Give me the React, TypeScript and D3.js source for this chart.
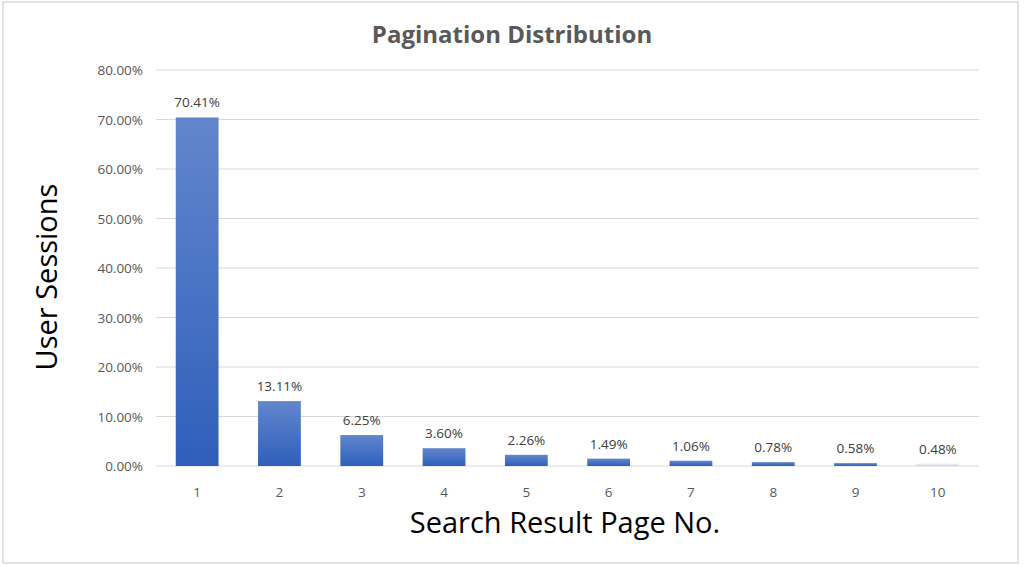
import * as d3 from 'd3';

const WIDTH = 1024;
const HEIGHT = 566;
const MARGIN = { top: 70, right: 45, bottom: 100, left: 156 };

const pages = ['1', '2', '3', '4', '5', '6', '7', '8', '9', '10'];
const sessions = [70.41, 13.11, 6.25, 3.6, 2.26, 1.49, 1.06, 0.78, 0.58, 0.48];
const yTicks = [0, 10, 20, 30, 40, 50, 60, 70, 80];

const FONT = '"Open Sans", sans-serif';

export default function App() {
    const boundsWidth = WIDTH - MARGIN.left - MARGIN.right;
    const boundsHeight = HEIGHT - MARGIN.top - MARGIN.bottom;

    const xScale = d3.scaleBand().domain(pages).range([0, boundsWidth]).paddingInner(0.48).paddingOuter(0.24);
    const yScale = d3.scaleLinear().domain([0, 80]).range([boundsHeight, 0]);

    return (
        <svg
            width={WIDTH}
            height={HEIGHT}
            style={{ position: 'absolute', left: 0, top: 0, background: '#fff' }}
        >
            <defs>
                <linearGradient id="barFill" x1="0" y1="0" x2="0" y2="1">
                    <stop offset="0%" stopColor="#6286cd" />
                    <stop offset="100%" stopColor="#2f5fbb" />
                </linearGradient>
            </defs>
            <rect x={3} y={2} width={1015} height={561} fill="#fff" stroke="#d9d9d9" strokeWidth={1.5} />
            <text
                x={512}
                y={43}
                textAnchor="middle"
                fontFamily={FONT}
                fontWeight="bold"
                fontSize={24}
                fill="#595959"
            >
                Pagination Distribution
            </text>
            <g transform={`translate(${MARGIN.left},${MARGIN.top})`}>
                {yTicks.map((t) => (
                    <g key={t}>
                        <line x1={0} x2={boundsWidth} y1={yScale(t)} y2={yScale(t)} stroke="#d9d9d9" strokeWidth={1} />
                        <text
                            x={-13}
                            y={yScale(t)}
                            textAnchor="end"
                            dominantBaseline="central"
                            fontFamily={FONT}
                            fontSize={13.5}
                            fill="#595959"
                        >
                            {`${t.toFixed(2)}%`}
                        </text>
                    </g>
                ))}
                {sessions.map((v, i) => {
                    const x = xScale(pages[i]) ?? 0;
                    return (
                        <g key={i}>
                            <rect
                                x={x}
                                y={yScale(v)}
                                width={xScale.bandwidth()}
                                height={boundsHeight - yScale(v)}
                                fill="url(#barFill)"
                                fillOpacity={i === sessions.length - 1 ? 0.15 : 1}
                            />
                            <text
                                x={x + xScale.bandwidth() / 2}
                                y={yScale(v) - 10}
                                textAnchor="middle"
                                fontFamily={FONT}
                                fontSize={13.5}
                                fill="#404040"
                            >
                                {`${v.toFixed(2)}%`}
                            </text>
                            <text
                                x={x + xScale.bandwidth() / 2}
                                y={boundsHeight + 31}
                                textAnchor="middle"
                                fontFamily={FONT}
                                fontSize={13.5}
                                fill="#595959"
                            >
                                {pages[i]}
                            </text>
                        </g>
                    );
                })}
            </g>
            <text
                x={565}
                y={533}
                textAnchor="middle"
                fontFamily={FONT}
                fontSize={29}
                fill="#000"
            >
                Search Result Page No.
            </text>
            <text
                transform={`translate(57,277) rotate(-90)`}
                textAnchor="middle"
                fontFamily={FONT}
                fontSize={29}
                fill="#000"
            >
                User Sessions
            </text>
        </svg>
    );
}
